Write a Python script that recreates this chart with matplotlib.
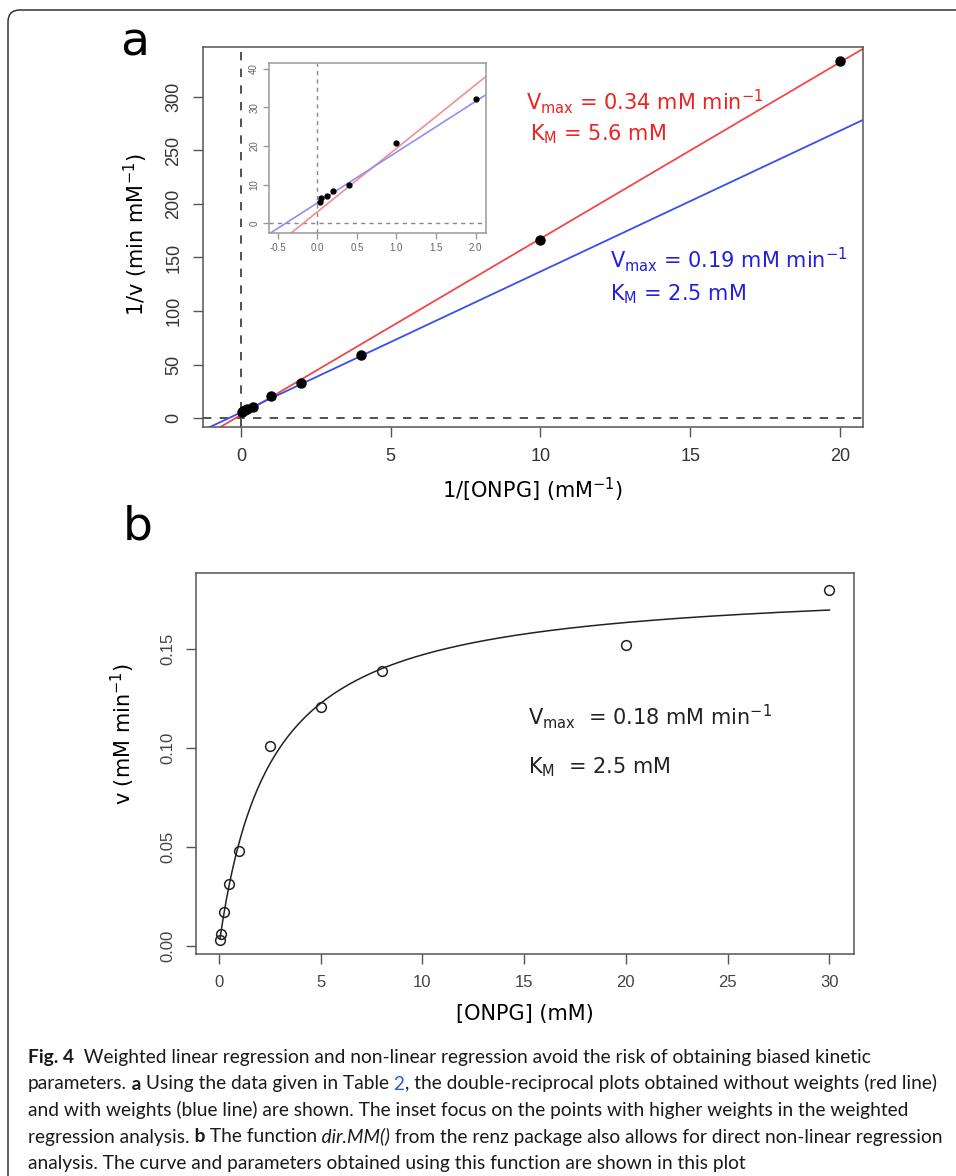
import numpy as np
import matplotlib
matplotlib.use("Agg")
import matplotlib.pyplot as plt
from matplotlib.patches import FancyBboxPatch
from matplotlib.transforms import IdentityTransform

# substrate concentrations [ONPG] (mM) and measured rates v (mM/min)
onpg = [0.05, 0.1, 0.25, 0.5, 1, 2.5, 5, 8, 20, 30]
rate = [0.003, 0.006, 0.017, 0.031, 0.048, 0.101, 0.121, 0.139, 0.152, 0.180]

# fitted kinetic parameters
vmax_unw, km_unw = 0.34, 5.6     # unweighted Lineweaver-Burk (red)
vmax_w, km_w = 0.19, 2.5         # weighted Lineweaver-Burk (blue)
vmax_nl, km_nl = 0.184, 2.5      # direct non-linear fit (curve)

xticks_a = [0, 5, 10, 15, 20]
yticks_a = [0, 50, 100, 150, 200, 250, 300]
xticks_in = [-0.5, 0.0, 0.5, 1.0, 1.5, 2.0]
yticks_in = [0, 10, 20, 30, 40]
xticks_b = [0, 5, 10, 15, 20, 25, 30]
yticks_b = [0.00, 0.05, 0.10, 0.15]

caption = [
    [("Fig. 4", {"weight": "bold"}),
     ("  Weighted linear regression and non-linear regression avoid the risk of obtaining biased kinetic", {})],
    [("parameters.", {}), (" a", {"weight": "bold"}), (" Using the data given in Table", {}),
     (" 2", {"color": "#2a5bd7"}),
     (", the double-reciprocal plots obtained without weights (red line)", {})],
    [("and with weights (blue line) are shown. The inset focus on the points with higher weights in the weighted", {})],
    [("regression analysis.", {}), (" b", {"weight": "bold"}), (" The function", {}),
     (" dir.MM()", {"style": "italic"}),
     (" from the renz package also allows for direct non-linear regression", {})],
    [("analysis. The curve and parameters obtained using this function are shown in this plot", {})],
]

inv_s = 1 / np.array(onpg)
inv_v = 1 / np.array(rate)

W, H = 956, 1176
plt.rcParams['font.family'] = ['Liberation Sans', 'DejaVu Sans']
fig = plt.figure(figsize=(W / 100, H / 100), dpi=100)


def px_axes(l, t, r, b):
    return fig.add_axes([l / W, 1 - b / H, (r - l) / W, (b - t) / H])


def r_style(ax, color, size, lcolor, length=7, pad=6):
    for s in ax.spines.values():
        s.set_color(color)
        s.set_linewidth(1.1)
    ax.tick_params(direction='out', length=length, width=1, color=color,
                   labelsize=size, labelcolor=lcolor, pad=pad)
    for lbl in ax.get_yticklabels():
        lbl.set_rotation(90)
        lbl.set_va('center')


def ftext(x, y, s, **kw):
    return fig.text(x / W, 1 - y / H, s, va='baseline', ha='left', **kw)


# ---- panel a ----
ax = px_axes(203, 47, 863, 427)
ax.axhline(0, color='#333333', lw=1.2, ls=(0, (5, 5)), zorder=1)
ax.axvline(0, color='#333333', lw=1.2, ls=(0, (5, 5)), zorder=1)
ax.axline((0, 1 / vmax_unw), slope=km_unw / vmax_unw, color='#f0484a', lw=1.3, zorder=2)
ax.axline((0, 1 / vmax_w), slope=km_w / vmax_w, color='#3a4ef0', lw=1.3, zorder=2)
ax.plot(inv_s, inv_v, 'o', color='black', ms=6.5, zorder=5)
ax.set_xlim(-1.27, 20.77)
ax.set_ylim(-8.4, 346.7)
ax.set_xticks(xticks_a)
ax.set_yticks(yticks_a)
r_style(ax, '#555555', 13, '#333333', pad=8)
ax.set_xlabel('1/[ONPG] (mM$^{-1}$)', family='DejaVu Sans', fontsize=15, labelpad=8)
ax.set_ylabel('1/v (min mM$^{-1}$)', family='DejaVu Sans', fontsize=15)
ax.yaxis.set_label_coords(-(203 - 150) / 660, (427 - 235) / 380)

# inset
ai = px_axes(269, 63, 486, 233)
ai.set_facecolor('white')
ai.axhline(0, color='#888888', lw=1, ls=(0, (3, 3)), zorder=1)
ai.axvline(0, color='#888888', lw=1, ls=(0, (3, 3)), zorder=1)
ai.axline((0, 1 / vmax_unw), slope=km_unw / vmax_unw, color='#f29090', lw=1.2, zorder=2)
ai.axline((0, 1 / vmax_w), slope=km_w / vmax_w, color='#9090f0', lw=1.2, zorder=2)
ai.plot(inv_s, inv_v, 'o', color='black', ms=3.5, zorder=5)
ai.set_xlim(-0.609, 2.13)
ai.set_ylim(-2.5, 41.5)
ai.set_xticks(xticks_in)
ai.set_xticklabels([f'{t:.1f}' for t in xticks_in])
ai.set_yticks(yticks_in)
r_style(ai, '#999999', 7, '#666666', length=4, pad=3)

tsz = 15
ftext(526, 110, r'V$_{\mathrm{max}}$ = 0.34 mM min$^{\mathrm{-1}}$', color='#ee2222',
      family='DejaVu Sans', fontsize=tsz)
ftext(530, 140, r'K$_{\mathrm{M}}$ = 5.6 mM', color='#ee2222', family='DejaVu Sans', fontsize=tsz)
ftext(610, 268, r'V$_{\mathrm{max}}$ = 0.19 mM min$^{\mathrm{-1}}$', color='#2020dd',
      family='DejaVu Sans', fontsize=tsz)
ftext(610, 300, r'K$_{\mathrm{M}}$ = 2.5 mM', color='#2020dd', family='DejaVu Sans', fontsize=tsz)

# ---- panel b ----
bx = px_axes(196, 573, 854, 954)
s_fit = np.linspace(onpg[0], onpg[-1], 400)
bx.plot(s_fit, vmax_nl * s_fit / (km_nl + s_fit), color='#222222', lw=1.1)
bx.plot(onpg, rate, 'o', mfc='none', mec='#222222', mew=1.1, ms=7)
bx.set_xlim(-1.13, 31.21)
bx.set_ylim(-0.0042, 0.1886)
bx.set_xticks(xticks_b)
bx.set_yticks(yticks_b)
bx.set_yticklabels([f'{t:.2f}' for t in yticks_b])
r_style(bx, '#555555', 12, '#444444', pad=8)
bx.set_xlabel('[ONPG] (mM)', family='DejaVu Sans', fontsize=15, labelpad=10)
bx.set_ylabel('v (mM min$^{-1}$)', family='DejaVu Sans', fontsize=15)
bx.yaxis.set_label_coords(-(196 - 137) / 658, (954 - 734) / 381)

ftext(528, 725, r'V$_{\mathrm{max}}$  = 0.18 mM min$^{\mathrm{-1}}$', color='#222222',
      family='DejaVu Sans', fontsize=tsz)
ftext(528, 773, r'K$_{\mathrm{M}}$  = 2.5 mM', color='#222222', family='DejaVu Sans', fontsize=tsz)

# panel letters
fig.text(135 / W, 1 - 43 / H, 'a', fontsize=34, family='DejaVu Sans', ha='center', va='center')
fig.text(138 / W, 1 - 527 / H, 'b', fontsize=34, family='DejaVu Sans', ha='center', va='center')

# ---- caption ----
renderer = fig.canvas.get_renderer()
cap_font = 'Lato'


def rich_line(x, y, segs, size, keep=True):
    arts = []
    for s, st in segs:
        t = ftext(x, y, s, fontsize=size, family=cap_font, color=st.get('color', '#1a1a1a'),
                  weight=st.get('weight', 'normal'), style=st.get('style', 'normal'))
        x += t.get_window_extent(renderer).width
        arts.append(t)
    if not keep:
        for t in arts:
            t.remove()
    return x


# pick the caption size so lines 2 and 4 stay within the reference widths
w2 = rich_line(28, 0, caption[1], 10, keep=False) - 28
w4 = rich_line(28, 0, caption[3], 10, keep=False) - 28
cap_size = min(10 * 922 / w2, 10 * 915 / w4)
for i, segs in enumerate(caption):
    rich_line(28, 1063 + 26.5 * i, segs, cap_size)

# rounded frame around the figure
frame = FancyBboxPatch((8, -60), 1100, 1166 + 60, boxstyle='round,pad=0,rounding_size=12',
                       transform=IdentityTransform(), fill=False, ec='#333333', lw=1.1)
fig.add_artist(frame)

fig.savefig('out.png', dpi=100)
